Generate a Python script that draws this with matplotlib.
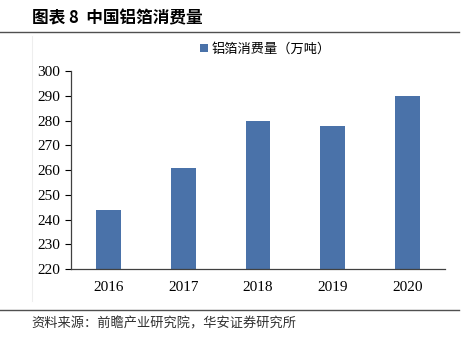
import matplotlib.pyplot as plt
from matplotlib.lines import Line2D

# data
years = ['2016', '2017', '2018', '2019', '2020']
consumption = [244, 261, 280, 278, 290]
y_ticks = [220, 230, 240, 250, 260, 270, 280, 290, 300]

title = '图表 8  中国铝箔消费量'
legend_label = '铝箔消费量（万吨）'
source = '资料来源：前瞻产业研究院，华安证券研究所'

cjk = ['Noto Sans CJK SC', 'DejaVu Sans']
bar_color = '#4A72A9'

fig = plt.figure(figsize=(4.64, 3.42), dpi=100)
ax = fig.add_axes([0.153, 0.2135, 0.806, 0.5785])

x = range(len(years))
bars = ax.bar(x, consumption, width=0.33, color=bar_color, label=legend_label)

ax.set_xlim(-0.5, len(years) - 0.5)
ax.set_ylim(220, 300)
ax.set_yticks(y_ticks)
ax.set_xticks(list(x))
ax.set_xticklabels(years)
for lbl in ax.get_xticklabels() + ax.get_yticklabels():
    lbl.set_fontfamily('Liberation Serif')
    lbl.set_fontsize(11)
ax.tick_params(axis='x', length=0, pad=9)
ax.tick_params(axis='y', length=4, direction='out', pad=4)
ax.spines['top'].set_visible(False)
ax.spines['right'].set_visible(False)
for s in ['left', 'bottom']:
    ax.spines[s].set_color('#404040')
    ax.spines[s].set_linewidth(0.9)

leg = ax.legend(loc='center', bbox_to_anchor=(0.52, 1.11), frameon=False,
                handlelength=0.6, handleheight=0.6, handletextpad=0.3,
                prop={'family': cjk, 'size': 9.5})

# title, rules and source
fig.text(0.068, 0.945, title, fontsize=12, fontweight='bold', family=cjk,
         va='center', ha='left')
fig.add_artist(Line2D([0.0, 0.99], [0.905, 0.905], color='#505050', lw=1.0))
fig.add_artist(Line2D([0.0, 0.99], [0.093, 0.093], color='#505050', lw=1.0))
fig.add_artist(Line2D([0.068, 0.068], [0.12, 0.895], color='#eeeeee', lw=0.8))
fig.text(0.068, 0.052, source, fontsize=9.5, family=cjk, color='#303030',
         va='center', ha='left')

fig.savefig('out.png', dpi=100)
